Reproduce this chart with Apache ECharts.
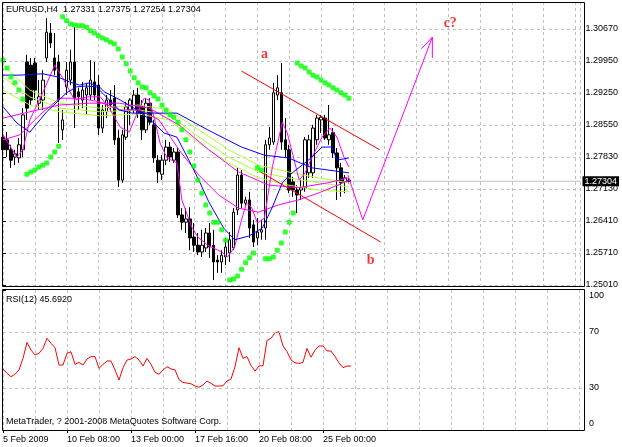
<!DOCTYPE html>
<html><head><meta charset="utf-8">
<script src="https://cdn.jsdelivr.net/npm/echarts@6/dist/echarts.min.js"></script>
<style>html,body{margin:0;padding:0;background:#fff}#c{width:622px;height:447px}</style>
</head><body><div id="c"></div>
<script>
// ---- data (EURUSD H4) ----
const barOpen = [1.2828,1.2822,1.2800,1.2784,1.2782,1.2800,1.2994,1.2987,1.2992,1.2903,1.2910,1.3003,1.3058,1.3003,1.2994,1.2844,1.2939,1.2954,1.2994,1.2928,1.2910,1.2921,1.2921,1.2950,1.2943,1.2848,1.2884,1.2910,1.2914,1.2826,1.2733,1.2828,1.2888,1.2888,1.2921,1.2895,1.2844,1.2903,1.2855,1.2777,1.2746,1.2777,1.2806,1.2777,1.2795,1.2656,1.2640,1.2647,1.2607,1.2589,1.2574,1.2583,1.2616,1.2589,1.2556,1.2552,1.2563,1.2572,1.2583,1.2667,1.2744,1.2682,1.2689,1.2634,1.2605,1.2618,1.2627,1.2811,1.2817,1.2921,1.2926,1.2822,1.2800,1.2729,1.2711,1.2711,1.2716,1.2749,1.2749,1.2822,1.2866,1.2870,1.2822,1.2838,1.2793,1.2760,1.2729,1.27331];
const barClose = [1.2800,1.2800,1.2777,1.2791,1.2811,1.2877,1.2892,1.2910,1.2932,1.2917,1.2954,1.3060,1.3036,1.2976,1.2910,1.2866,1.2976,1.2994,1.2914,1.2917,1.2932,1.2937,1.2954,1.2921,1.2848,1.2888,1.2910,1.2899,1.2822,1.2733,1.2833,1.2895,1.2910,1.2921,1.2881,1.2844,1.2903,1.2861,1.2782,1.2751,1.2777,1.2806,1.2784,1.2795,1.2656,1.2640,1.2647,1.2605,1.2589,1.2574,1.2589,1.2616,1.2585,1.2552,1.2552,1.2567,1.2585,1.2601,1.2662,1.2744,1.2682,1.2689,1.2627,1.2596,1.2618,1.2623,1.2811,1.2826,1.2926,1.2937,1.2817,1.2800,1.2711,1.2711,1.2700,1.2716,1.2822,1.2822,1.2848,1.2870,1.2872,1.2826,1.2833,1.2793,1.2760,1.2727,1.2738,1.27304];
const barLow = [1.2777,1.2784,1.2760,1.2766,1.2771,1.2784,1.2866,1.2899,1.2910,1.2888,1.2888,1.2994,1.3025,1.2965,1.2815,1.2822,1.2921,1.2943,1.2848,1.2888,1.2892,1.2877,1.2910,1.2910,1.2833,1.2837,1.2870,1.2884,1.2811,1.2718,1.2727,1.2822,1.2855,1.2881,1.2870,1.2822,1.2837,1.2855,1.2771,1.2727,1.2733,1.2766,1.2773,1.2771,1.2649,1.2623,1.2616,1.2578,1.2574,1.2567,1.2563,1.2574,1.2561,1.2512,1.2528,1.2528,1.2545,1.2552,1.2578,1.2656,1.2671,1.2673,1.2605,1.2585,1.2589,1.2601,1.2601,1.2800,1.2811,1.2910,1.2800,1.2782,1.2704,1.2696,1.2660,1.2689,1.2707,1.2738,1.2738,1.2811,1.2837,1.2822,1.2811,1.2782,1.2689,1.2696,1.2704,1.27254];
const barHigh = [1.2855,1.2839,1.2811,1.2800,1.2826,1.2892,1.3010,1.3003,1.3003,1.2954,1.2976,1.3091,1.3080,1.3058,1.3010,1.2888,1.2994,1.3021,1.3071,1.2937,1.2950,1.2948,1.2998,1.2994,1.2965,1.2899,1.2921,1.2932,1.2943,1.2844,1.2844,1.2906,1.2914,1.2932,1.2937,1.2910,1.2914,1.2914,1.2866,1.2788,1.2788,1.2822,1.2817,1.2804,1.2806,1.2671,1.2671,1.2673,1.2638,1.2616,1.2623,1.2627,1.2638,1.2623,1.2567,1.2578,1.2605,1.2618,1.2671,1.2760,1.2755,1.2696,1.2707,1.2645,1.2649,1.2645,1.2822,1.2850,1.2948,1.2965,1.2992,1.2870,1.2811,1.2740,1.2722,1.2733,1.2828,1.2833,1.2855,1.2877,1.2877,1.2877,1.2899,1.2848,1.2804,1.2771,1.2744,1.27375];

// Parabolic SAR, one value per bar
const sarValues = [1.2998,1.2981,1.2961,1.2948,1.2932,1.2912,
  1.2746,1.2751,1.2755,1.2762,1.2766,1.2771,1.2784,1.2795,1.2808,
  1.3094,1.3085,1.3078,1.3076,1.3074,1.3074,1.3071,1.3063,1.3058,1.3052,1.3047,1.3043,1.3038,1.3034,1.3023,1.3005,1.2990,1.2974,1.2959,1.2948,1.2939,1.2937,1.2926,1.2919,1.2912,1.2899,1.2888,1.2877,1.2872,1.2861,1.2844,1.2822,1.2795,1.2764,1.2733,1.2704,1.2678,1.2660,1.2640,1.2640,1.2623,1.2600,
  1.2512,1.2514,1.2521,1.2536,1.2550,1.2561,1.2572,
  1.2760,1.2755,
  1.2559,1.2559,1.2563,1.2578,1.2594,1.2618,1.2640,1.2660,
  1.2992,1.2985,1.2981,1.2972,1.2965,1.2961,1.2954,1.2948,1.2943,1.2937,1.2932,1.2926,1.2921,1.2914];

// RSI(12), one value per bar
const rsiValues = [43.6,40.5,38.1,39.8,42.9,51.2,62.6,57.1,53.6,54.8,58.3,65.5,61.9,58.8,46.4,46.4,54.8,55.9,46.9,48.3,46.4,50.7,52.4,52.4,44.0,46.9,49.3,49.3,42.9,35.7,44.5,50.0,50.7,52.4,50.0,45.7,51.2,46.9,41.2,39.8,42.9,45.2,43.6,43.0,36.0,34.0,33.5,33.0,31.5,30.5,32.1,35.0,33.3,31.4,31.4,31.6,35.0,36.4,45.2,58.8,51.2,52.4,46.0,42.1,45.7,45.9,64.0,65.5,69.5,70.2,60.0,56.0,50.0,48.0,47.6,48.3,58.3,52.0,57.0,60.0,60.0,56.5,56.4,52.5,48.0,44.5,45.7,45.69];

// Moving averages: [bar, price]
const blueFast = [[0,1.2965],[4.25,1.2965],[10,1.2968],[13.75,1.2961],[16.75,1.2950],[19.25,1.2943],[21.75,1.2948],[24.25,1.2939],[25.5,1.2928],[29.5,1.2910],[33.75,1.2888],[38,1.2859],[40.5,1.2837],[43.75,1.2828],[46.75,1.2777],[49.25,1.2733],[51.75,1.2685],[55.5,1.2627],[58.25,1.2601],[61.75,1.2609],[65.25,1.2627],[67.75,1.2673],[70.25,1.2727],[72.75,1.2749],[75.25,1.2766],[77.75,1.2784],[80.25,1.2806],[82.75,1.2806],[84,1.2777],[87,1.2782]];
const blueSlow = [[0,1.2895],[3.5,1.2859],[6.75,1.2839],[11,1.2884],[16,1.2926],[18.5,1.2939],[21,1.2941],[23.5,1.2939],[26.75,1.2910],[29.25,1.2888],[32.5,1.2881],[43.75,1.2881],[51.5,1.2844],[60,1.2806],[65.75,1.2788],[71.75,1.2782],[77.75,1.2760],[87,1.2749]];
const magentaFast = [[0,1.2833],[3.5,1.2784],[5,1.2800],[6.75,1.2866],[10,1.2926],[13,1.2987],[15,1.2959],[18,1.2910],[21.25,1.2917],[24.5,1.2917],[27,1.2888],[29.5,1.2850],[31.75,1.2839],[33.75,1.2881],[35.5,1.2914],[36.75,1.2910],[38,1.2872],[39.5,1.2815],[41.25,1.2782],[43.75,1.2771],[45,1.2689],[47.5,1.2629],[49,1.2607],[51.5,1.2589],[55,1.2574],[56.5,1.2563],[58.25,1.2585],[60,1.2645],[61.25,1.2682],[62.5,1.2673],[64,1.2638],[65.75,1.2649],[67.75,1.2762],[70.25,1.2861],[71.5,1.2837],[73.25,1.2777],[74.5,1.2733],[76,1.2749],[77.75,1.2784],[80.25,1.2828],[82.25,1.2848],[84,1.2828],[85.75,1.2784],[87,1.2762]];
const magentaMid = [[0,1.2822],[4.25,1.2833],[9.25,1.2877],[14.25,1.2914],[19.25,1.2914],[24.25,1.2906],[29.25,1.2888],[34.25,1.2888],[39.25,1.2866],[44.25,1.2800],[49.25,1.2744],[54.25,1.2700],[59.25,1.2671],[64.25,1.2662],[69.25,1.2678],[74.25,1.2689],[79.25,1.2704],[84.25,1.2722],[87,1.2733]];
const magentaSlow = [[0,1.2870],[6.75,1.2884],[14.25,1.2899],[21.75,1.2903],[29.25,1.2903],[36.75,1.2892],[44.25,1.2855],[51.75,1.2800],[59.25,1.2751],[66.75,1.2722],[74.25,1.2716],[81.75,1.2727],[87,1.2738]];
const greenA = [[0,1.2987],[6.75,1.2932],[14.25,1.2903],[24.25,1.2892],[34.25,1.2899],[41.75,1.2888],[49.25,1.2844],[56.75,1.2800],[64.25,1.2766],[71.75,1.2751],[79.25,1.2738],[87,1.2727]];
const greenB = [[0,1.2961],[6.75,1.2917],[14.25,1.2892],[24.25,1.2884],[34.25,1.2888],[41.75,1.2877],[49.25,1.2828],[56.75,1.2784],[64.25,1.2751],[71.75,1.2738],[79.25,1.2727],[87,1.2718]];
const greenC = [[0,1.2932],[6.75,1.2899],[14.25,1.2884],[24.25,1.2875],[34.25,1.2879],[41.75,1.2866],[49.25,1.2815],[56.75,1.2771],[64.25,1.2738],[71.75,1.2722],[79.25,1.2711],[87,1.2707]];

// Hand-drawn annotations: [bar, price]
const channelUpper = [[60,1.2974],[94.75,1.2800]];
const channelLower = [[64.75,1.2751],[95,1.2596]];
const forecastPath = [[86.75,1.2744],[90.5,1.2645],[108,1.3049]];
const arrowHead = [[105.25,1.3023],[108,1.3049],[108,1.3003]];
const waveLabels = [{name:'a', value:[65.75,1.3010]},{name:'b', value:[92.5,1.2556]},{name:'c?', value:[112.5,1.3080]}];

// Axis labels
const priceTickLabels = ['1.25010','1.25710','1.26410','1.27130','1.27830','1.28550','1.29250','1.29950','1.30670'];
const dateLabels = ['5 Feb 2009','10 Feb 08:00','13 Feb 00:00','17 Feb 16:00','20 Feb 08:00','25 Feb 00:00'];
const dateLabelBars = [0,16,32,48,64,80];
const rsiTicks = [0,30,70,100];
const lastPrice = 1.27304;
const headerText = 'EURUSD,H4  1.27331 1.27375 1.27254 1.27304';

// ---- chart ----
const FONT = '"Liberation Sans", Arial, sans-serif';
const GRID = '#c0c0c0';
const xMax = 145.25;
const yMin = 1.2501, yMax = 1.31267, yStep = 0.007075;
const txt = {fontSize: 9, fontFamily: FONT, color: '#000', fontWeight: 'normal'};

const chart = echarts.init(document.getElementById('c'), null, {renderer: 'canvas'});
const candleData = barOpen.map((o, i) => [i, o, barClose[i], barLow[i], barHigh[i]]);
function maSeries(data, color) {
  return {type: 'line', xAxisIndex: 0, yAxisIndex: 0, data: data, showSymbol: false, symbol: 'none',
    lineStyle: {color: color, width: 1}, z: 3, silent: true};
}
const dashed = {show: true, lineStyle: {color: GRID, type: [3, 3], width: 1}};

chart.setOption({
  animation: false,
  backgroundColor: '#fff',
  title: [
    {text: headerText, left: 6, top: 5, padding: 0, textStyle: txt},
    {text: 'RSI(12) 45.6920', left: 6, top: 295, padding: 0, textStyle: txt},
    {text: 'MetaTrader, ? 2001-2008 MetaQuotes Software Corp.', left: 6, top: 417, padding: 0, textStyle: txt}
  ],
  grid: [
    {left: 3, right: 38, top: 2, height: 283},
    {left: 3, right: 38, top: 290, height: 140}
  ],
  xAxis: [
    {type: 'value', gridIndex: 0, min: 0, max: xMax, interval: 8, axisLine: {show: false}, axisTick: {show: false}, axisLabel: {show: false}, splitLine: dashed},
    {type: 'value', gridIndex: 1, position: 'top', min: 0, max: xMax, interval: 8, axisLine: {show: false}, axisTick: {show: false}, axisLabel: {show: false}, splitLine: dashed},
    {type: 'value', gridIndex: 1, position: 'bottom', min: 0, max: xMax, interval: 16,
      axisLine: {show: false}, splitLine: {show: false},
      axisTick: {show: true, customValues: dateLabelBars, length: 3, lineStyle: {color: '#000'}},
      axisLabel: Object.assign({customValues: dateLabelBars, align: 'left', margin: 5,
        formatter: v => { const k = dateLabelBars.indexOf(Math.round(v)); return k >= 0 ? dateLabels[k] : ''; }}, txt)}
  ],
  yAxis: [
    {type: 'value', gridIndex: 0, position: 'right', min: yMin, max: yMax, interval: yStep,
      axisLine: {show: false}, splitLine: dashed,
      axisTick: {show: true, length: 3, lineStyle: {color: '#000'}},
      axisLabel: Object.assign({margin: 5, showMaxLabel: false,
        formatter: v => { const k = (v - yMin) / yStep; const r = Math.round(k); return (Math.abs(k - r) < 0.01 && priceTickLabels[r]) ? priceTickLabels[r] : ''; }}, txt)},
    {type: 'value', gridIndex: 1, position: 'right', min: 0, max: 100, interval: 10,
      axisLine: {show: false}, splitLine: {show: false},
      axisTick: {show: true, customValues: rsiTicks, length: 3, lineStyle: {color: '#000'}},
      axisLabel: Object.assign({customValues: rsiTicks, margin: 5,
        formatter: v => v === 100 ? '{t|100}' : (v === 0 ? '{b|0}' : String(v)),
        rich: {t: {padding: [12, 0, 0, 0], fontSize: 9, fontFamily: FONT, color: '#000'},
               b: {padding: [0, 0, 12, 0], fontSize: 9, fontFamily: FONT, color: '#000'}}}, txt)},
    {type: 'value', gridIndex: 0, position: 'right', offset: 0, min: yMin, max: yMax,
      axisLine: {show: false}, splitLine: {show: false}, axisTick: {show: false},
      axisLabel: {customValues: [lastPrice], margin: 2, formatter: v => v.toFixed(5),
        color: '#fff', backgroundColor: '#000', padding: [1, 2, 0, 2], fontSize: 9, fontFamily: FONT}}
  ],
  series: [
    {type: 'candlestick', xAxisIndex: 0, yAxisIndex: 0, data: candleData, encode: {x: 0, y: [1, 2, 3, 4]},
      barWidth: 3, clip: false, z: 2, silent: true,
      itemStyle: {color: '#ffffff', color0: '#000000', borderColor: '#000000', borderColor0: '#000000', borderWidth: 1}},
    {type: 'line', xAxisIndex: 0, yAxisIndex: 2, data: [[0, lastPrice], [xMax, lastPrice]], showSymbol: false, symbol: 'none',
      lineStyle: {color: GRID, width: 1}, z: 1, silent: true},
    maSeries(greenA, '#adff2f'),
    maSeries(greenB, '#adff2f'),
    maSeries(greenC, '#adff2f'),
    maSeries(magentaSlow, '#ff00ff'),
    maSeries(magentaMid, '#ff00ff'),
    maSeries(magentaFast, '#ff00ff'),
    maSeries(blueSlow, '#0000ff'),
    maSeries(blueFast, '#0000ff'),
    {type: 'scatter', xAxisIndex: 0, yAxisIndex: 0, data: sarValues.map((v, i) => [i, v]),
      symbol: 'roundRect', symbolSize: 5, itemStyle: {color: '#00ff00'}, z: 4, silent: true},
    maSeries(channelUpper, '#ff0000'),
    maSeries(channelLower, '#ff0000'),
    maSeries(forecastPath, '#ff00ff'),
    maSeries(arrowHead, '#ff00ff'),
    {type: 'scatter', xAxisIndex: 0, yAxisIndex: 0, data: waveLabels, symbolSize: 1,
      itemStyle: {color: 'rgba(0,0,0,0)'}, z: 5, silent: true,
      label: {show: true, position: 'inside', formatter: '{b}', color: '#ff0000',
        fontFamily: '"Liberation Serif", "DejaVu Serif", serif', fontWeight: 'bold', fontSize: 14}},
    {type: 'line', xAxisIndex: 2, yAxisIndex: 1, data: rsiValues.map((v, i) => [i, v]),
      showSymbol: false, symbol: 'none', lineStyle: {color: '#ff0000', width: 1}, z: 3, silent: true,
      markLine: {silent: true, symbol: 'none', animation: false, label: {show: false},
        lineStyle: {color: GRID, type: [3, 3], width: 1}, data: [{yAxis: 30}, {yAxis: 70}]}}
  ],
  graphic: [
    {type: 'rect', z: 100, silent: true, shape: {x: 2.5, y: 2.5, width: 582, height: 284}, style: {fill: 'none', stroke: '#000', lineWidth: 1}},
    {type: 'rect', z: 100, silent: true, shape: {x: 2.5, y: 289.5, width: 582, height: 141}, style: {fill: 'none', stroke: '#000', lineWidth: 1}}
  ]
});
</script>
</body></html>
